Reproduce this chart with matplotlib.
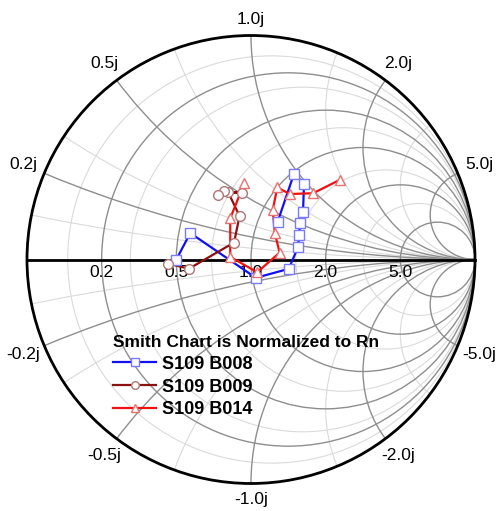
import numpy as np
import matplotlib
matplotlib.use('Agg')
import matplotlib.pyplot as plt
from matplotlib.patches import Circle
from matplotlib.lines import Line2D

plt.rcParams['font.family'] = ['Liberation Sans', 'DejaVu Sans']

# normalized impedance z = r + jx
b008_r = [0.50, 0.56, 1.03, 1.40, 1.52, 1.50, 1.45, 1.42, 1.19, 1.02, 1.19]
b008_x = [0.00, 0.145, -0.17, -0.12, 0.18, 0.35, 0.51, 0.67, 0.97, 0.96, 0.42]

b009_r = [0.46, 0.565, 0.85, 0.84, 0.69, 0.78, 0.66, 0.64]
b009_x = [-0.02, -0.05, 0.13, 0.34, 0.46, 0.51, 0.45, 0.41]

b014_r = [0.75, 0.78, 0.83, 1.05, 1.29, 1.20, 1.09, 1.00, 1.15, 1.37, 1.46]
b014_x = [0.58, 0.30, 0.02, -0.12, 0.08, 0.29, 0.51, 0.73, 0.76, 0.97, 1.45]

series_names = ['S109 B008', 'S109 B009', 'S109 B014']

major_vals = [0.2, 0.5, 1.0, 2.0, 5.0]
minor_vals = [0.1, 0.3, 0.7, 1.5, 3.0]
major_labels = ['0.2', '0.5', '1.0', '2.0', '5.0']


def gamma(r, x):
    z = np.array(r) + 1j * np.array(x)
    g = (z - 1) / (z + 1)
    return g.real, g.imag


fig = plt.figure(figsize=(4.97, 5.11), dpi=100)
ax = fig.add_axes([0, 0, 1, 1])
ax.set_xlim(-251 / 224, 246 / 224)
ax.set_ylim(-251.5 / 224, 259.5 / 224)
ax.axis('off')

edge = Circle((0, 0), 1, transform=ax.transData, facecolor='none', edgecolor='none')
ax.add_patch(edge)

# grid: resistance circles and reactance arcs
for vals, col, lw in [(minor_vals, '#dadada', 0.8), (major_vals, '#8e8e8e', 1.0)]:
    for v in vals:
        c = Circle((v / (1 + v), 0), 1 / (1 + v), fill=False, edgecolor=col, lw=lw, zorder=1)
        ax.add_patch(c)
        c.set_clip_path(edge)
        for s in (1, -1):
            c = Circle((1, s / v), 1 / v, fill=False, edgecolor=col, lw=lw, zorder=1)
            ax.add_patch(c)
            c.set_clip_path(edge)

ax.add_patch(Circle((0, 0), 1, fill=False, edgecolor='black', lw=2, zorder=3))
ax.plot([-1, 1], [0, 0], color='black', lw=2, zorder=3)

# axis labels
for v, lab in zip(major_vals, major_labels):
    ax.text((v - 1) / (v + 1), -0.025, lab, ha='center', va='top', fontsize=12.5, zorder=4)
    for s in (1, -1):
        g = (1j * s * v - 1) / (1j * s * v + 1)
        ang = np.angle(g)
        rad = 1.07 + 0.035 * abs(np.cos(ang))
        txt = ('-' if s < 0 else '') + lab + 'j'
        ax.text(rad * np.cos(ang), rad * np.sin(ang), txt, ha='center', va='center', fontsize=12.5)

styles = [
    (b008_r, b008_x, '#1010f0', '#7a7aff', 's'),
    (b009_r, b009_x, '#8b1010', '#b07575', 'o'),
    (b014_r, b014_x, '#f01010', '#e87070', '^'),
]
handles = []
for (r, x, lc, mc, mk), name in zip(styles, series_names):
    gx, gy = gamma(r, x)
    ax.plot(gx, gy, color=lc, lw=1.6, zorder=5)
    ax.plot(gx, gy, ls='none', marker=mk, ms=7, mfc='white', mec=mc, mew=1.0, zorder=6)
    handles.append(Line2D([], [], color=lc, lw=1.6, marker=mk, ms=5.5, mfc='white', mec=mc, mew=1.0))

leg = ax.legend(handles, series_names, loc='upper left', bbox_to_anchor=(104 / 497, 1 - 326 / 511),
                frameon=False, prop={'weight': 'bold', 'size': 13}, handlelength=2.4,
                handletextpad=0.3, labelspacing=0.32, borderpad=0,
                title='Smith Chart is Normalized to Rn',
                title_fontproperties={'weight': 'bold', 'size': 12.5})
leg._legend_box.align = 'left'
leg.set_zorder(7)

fig.savefig('out.png', dpi=100)
